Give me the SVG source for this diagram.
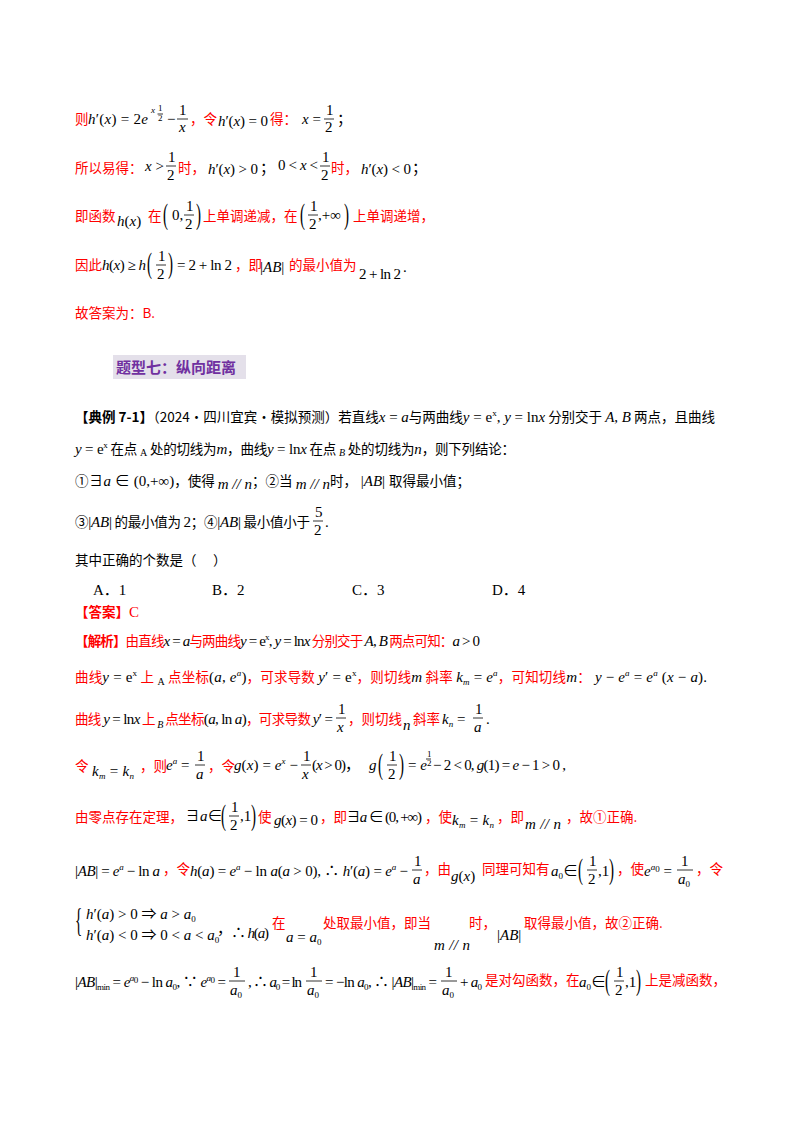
<svg xmlns="http://www.w3.org/2000/svg" width="800" height="1132" viewBox="0 0 800 1132">
<style>
text{font-family:"Liberation Serif","Noto Sans CJK SC",serif;font-size:15px;fill:#000}
.r{fill:#ff0000;font-family:"Noto Sans CJK SC",sans-serif;font-size:13.5px}
.rb{fill:#ff0000;font-family:"Noto Sans CJK SC",sans-serif;font-size:13.5px;font-weight:bold}
.c{font-family:"Noto Sans CJK SC",sans-serif;font-size:13.5px}
.i{font-style:italic}
.s{font-size:9px}
.sm{font-size:10px}
.p{font-size:15px}
.fb{stroke:#000;stroke-width:0.8}
.h{fill:#7030a0;font-family:"Noto Sans CJK SC",sans-serif;font-size:15px;font-weight:bold}
</style>
<rect width="800" height="1132" fill="#fff"/>

<g id="l1">
<text class="r" x="75" y="124">则</text>
<text x="88" y="124" textLength="60"><tspan class="i">h</tspan>′(<tspan class="i">x</tspan>) = 2<tspan class="i">e</tspan></text>
<text class="s i" x="151" y="113">x</text>
<text class="s" x="158" y="111">1</text><line class="fb" x1="157.5" y1="114" x2="163" y2="114"/><text class="s" x="158" y="121">2</text>
<text x="167" y="124">−</text>
<text x="179" y="115">1</text><line class="fb" x1="177" y1="119" x2="188" y2="119"/><text class="i" x="179" y="132">x</text>
<text class="r" x="190" y="124">，令</text>
<text x="218" y="126" textLength="50"><tspan class="i">h</tspan>′(<tspan class="i">x</tspan>) = 0</text>
<text class="r" x="270" y="124">得：</text>
<text x="302" y="124"><tspan class="i">x</tspan> =</text>
<text x="326" y="115">1</text><line class="fb" x1="324" y1="119" x2="334" y2="119"/><text x="325" y="132">2</text>
<text x="337" y="124">；</text>
</g>

<g id="l2">
<text class="r" x="75" y="173">所以易得：</text>
<text x="145" y="171"><tspan class="i">x</tspan> &gt;</text>
<text x="168" y="162">1</text><line class="fb" x1="166" y1="166" x2="176" y2="166"/><text x="167" y="180">2</text>
<text class="r" x="178" y="173">时，</text>
<text x="208" y="174" textLength="50"><tspan class="i">h</tspan>′(<tspan class="i">x</tspan>) &gt; 0</text>
<text x="260" y="173">；</text>
<text x="278" y="170" textLength="40">0 &lt; <tspan class="i">x</tspan> &lt;</text>
<text x="322" y="162">1</text><line class="fb" x1="320" y1="166" x2="330" y2="166"/><text x="321" y="180">2</text>
<text class="r" x="331" y="173">时，</text>
<text x="361" y="174" textLength="50"><tspan class="i">h</tspan>′(<tspan class="i">x</tspan>) &lt; 0</text>
<text x="412" y="173">；</text>
</g>

<g id="l3">
<text class="r" x="75" y="221">即函数</text>
<text x="117" y="226"><tspan class="i">h</tspan>(<tspan class="i">x</tspan>)</text>
<text class="r" x="148" y="221">在</text>
<text class="p" transform="translate(163,224) scale(1,1.9)">(</text>
<text x="172" y="220">0,</text>
<text x="186" y="211">1</text><line class="fb" x1="184" y1="215" x2="194" y2="215"/><text x="185" y="229">2</text>
<text class="p" transform="translate(196,224) scale(1,1.9)">)</text>
<text class="r" x="203" y="221">上单调递减，在</text>
<text class="p" transform="translate(300,224) scale(1,1.9)">(</text>
<text x="310" y="211">1</text><line class="fb" x1="308" y1="215" x2="318" y2="215"/><text x="309" y="229">2</text>
<text x="318" y="220" font-size="13">,+∞</text>
<text class="p" transform="translate(344,224) scale(1,1.9)">)</text>
<text class="r" x="353" y="221">上单调递增，</text>
</g>

<g id="l4">
<text class="r" x="75" y="270">因此</text>
<text x="102" y="270" textLength="44"><tspan class="i">h</tspan>(<tspan class="i">x</tspan>) ≥ <tspan class="i">h</tspan></text>
<text class="p" transform="translate(147,273) scale(1,1.9)">(</text>
<text x="158" y="261">1</text><line class="fb" x1="156" y1="265" x2="166" y2="265"/><text x="157" y="279">2</text>
<text class="p" transform="translate(168,273) scale(1,1.9)">)</text>
<text x="177" y="270" textLength="55">= 2 + ln 2</text>
<text class="r" x="235" y="270">，即</text>
<text x="260" y="272">|<tspan class="i">AB</tspan>|</text>
<text class="r" x="289" y="270">的最小值为</text>
<text x="359" y="279" textLength="42">2 + ln 2</text>
<text x="403" y="272">.</text>
</g>

<g id="l5"><text class="r" x="75" y="318">故答案为：B.</text></g>

<g id="heading">
<rect x="113" y="355" width="133" height="24" fill="#e4e0ea"/>
<text class="h" x="116" y="373">题型七：纵向距离</text>
</g>

<g id="problem">
<text x="75" y="422" textLength="640"><tspan class="c" font-weight="bold">【典例 7-1】</tspan><tspan class="c">（2024·四川宜宾·模拟预测）若直线</tspan><tspan class="i">x</tspan> = <tspan class="i">a</tspan><tspan class="c">与两曲线</tspan><tspan class="i">y</tspan> = e<tspan class="s" dy="-6">x</tspan><tspan dy="6">, </tspan><tspan class="i">y</tspan> = ln<tspan class="i">x</tspan><tspan class="c"> 分别交于 </tspan><tspan class="i">A</tspan>, <tspan class="i">B</tspan><tspan class="c"> 两点，且曲线</tspan></text>
<text x="75" y="454" textLength="440"><tspan class="i">y</tspan> = e<tspan class="s" dy="-6">x</tspan><tspan class="c" dy="6"> 在点 </tspan><tspan class="sm" dy="2">A</tspan><tspan class="c" dy="-2"> 处的切线为</tspan><tspan class="i">m</tspan><tspan class="c">，曲线</tspan><tspan class="i">y</tspan> = ln<tspan class="i">x</tspan><tspan class="c"> 在点 </tspan><tspan class="i sm" dy="2">B</tspan><tspan class="c" dy="-2"> 处的切线为</tspan><tspan class="i">n</tspan><tspan class="c">，则下列结论：</tspan></text>
<text x="75" y="486" textLength="395"><tspan class="c">①</tspan>∃<tspan class="i">a</tspan> ∈ (0,+∞)<tspan class="c">，使得 </tspan><tspan class="i" dy="3">m // n</tspan><tspan class="c" dy="-3">；②当 </tspan><tspan class="i" dy="3">m // n</tspan><tspan class="c" dy="-3">时，</tspan> |<tspan class="i">AB</tspan>| <tspan class="c">取得最小值；</tspan></text>
<text x="75" y="527" textLength="235"><tspan class="c">③</tspan>|<tspan class="i">AB</tspan>|<tspan class="c"> 的最小值为 </tspan>2<tspan class="c">；④</tspan>|<tspan class="i">AB</tspan>|<tspan class="c"> 最小值小于</tspan></text>
<text x="315" y="517">5</text><line class="fb" x1="313" y1="521" x2="323" y2="521"/><text x="314" y="535">2</text>
<text x="325" y="527">.</text>
<text class="c" x="75" y="565">其中正确的个数是（　 ）</text>
<text x="93" y="595">A．1</text>
<text x="212" y="595">B．2</text>
<text x="352" y="595">C．3</text>
<text x="492" y="595">D．4</text>
</g>

<g id="answer"><text x="75" y="617"><tspan class="rb">【答案】</tspan><tspan fill="#ff0000">C</tspan></text></g>

<g id="s1">
<text x="75" y="646" textLength="405"><tspan class="rb">【解析】</tspan><tspan class="r">由直线</tspan><tspan class="i">x</tspan> = <tspan class="i">a</tspan><tspan class="r">与两曲线</tspan><tspan class="i">y</tspan> = e<tspan class="s" dy="-6">x</tspan><tspan dy="6">, </tspan><tspan class="i">y</tspan> = ln<tspan class="i">x</tspan><tspan class="r"> 分别交于 </tspan><tspan class="i">A</tspan>, <tspan class="i">B</tspan><tspan class="r"> 两点可知：</tspan><tspan class="i">a</tspan> &gt; 0</text>
</g>
<g id="s2">
<text x="75" y="682" textLength="632"><tspan class="r">曲线</tspan><tspan class="i">y</tspan> = e<tspan class="s" dy="-6">x</tspan><tspan class="r" dy="6"> 上 </tspan><tspan class="sm" dy="3">A</tspan><tspan class="r" dy="-3"> 点坐标</tspan>(<tspan class="i">a</tspan>, <tspan class="i">e</tspan><tspan class="s i" dy="-6">a</tspan><tspan dy="6">)</tspan><tspan class="r">，可求导数 </tspan><tspan class="i">y</tspan>′ = e<tspan class="s" dy="-6">x</tspan><tspan class="r" dy="6">，则切线</tspan><tspan class="i">m</tspan><tspan class="r"> 斜率 </tspan><tspan class="i">k</tspan><tspan class="s i" dy="3">m</tspan><tspan dy="-3"> = </tspan><tspan class="i">e</tspan><tspan class="s i" dy="-6">a</tspan><tspan class="r" dy="6">，可知切线</tspan><tspan class="i">m</tspan><tspan class="r">：</tspan> <tspan class="i">y</tspan> − <tspan class="i">e</tspan><tspan class="s i" dy="-6">a</tspan><tspan dy="6"> = </tspan><tspan class="i">e</tspan><tspan class="s i" dy="-6">a</tspan><tspan dy="6"> (</tspan><tspan class="i">x</tspan> − <tspan class="i">a</tspan>).</text>
</g>
<g id="s3">
<text x="75" y="724" textLength="258"><tspan class="r">曲线 </tspan><tspan class="i">y</tspan> = ln<tspan class="i">x</tspan><tspan class="r"> 上 </tspan><tspan class="i sm" dy="4">B</tspan><tspan class="r" dy="-4"> 点坐标</tspan>(<tspan class="i">a</tspan>, ln <tspan class="i">a</tspan>)<tspan class="r">，可求导数 </tspan><tspan class="i">y</tspan>′ =</text>
<text x="338" y="714">1</text><line class="fb" x1="336" y1="718" x2="346" y2="718"/><text class="i" x="337" y="732">x</text>
<text class="r" x="348" y="724">，则切线</text>
<text class="i" x="403" y="730">n</text>
<text class="r" x="413" y="724">斜率</text>
<text x="442" y="724"><tspan class="i">k</tspan><tspan class="s i" dy="3">n</tspan><tspan dy="-3"> =</tspan></text>
<text x="475" y="714">1</text><line class="fb" x1="473" y1="718" x2="483" y2="718"/><text class="i" x="474" y="732">a</text>
<text x="486" y="724">.</text>
</g>
<g id="s4">
<text class="r" x="75" y="771">令</text>
<text x="92" y="776" textLength="42"><tspan class="i">k</tspan><tspan class="s i" dy="3">m</tspan><tspan dy="-3"> = </tspan><tspan class="i">k</tspan><tspan class="s i" dy="3">n</tspan></text>
<text class="r" x="140" y="771">，则</text>
<text x="166" y="770"><tspan class="i">e</tspan><tspan class="s i" dy="-6">a</tspan><tspan dy="6"> =</tspan></text>
<text x="197" y="761">1</text><line class="fb" x1="195" y1="765" x2="205" y2="765"/><text class="i" x="196" y="779">a</text>
<text class="r" x="208" y="771">，令</text>
<text x="234" y="770" textLength="64"><tspan class="i">g</tspan>(<tspan class="i">x</tspan>) = <tspan class="i">e</tspan><tspan class="s i" dy="-6">x</tspan><tspan dy="6"> −</tspan></text>
<text x="303" y="761">1</text><line class="fb" x1="301" y1="765" x2="311" y2="765"/><text class="i" x="302" y="779">x</text>
<text x="312" y="770" textLength="48">(<tspan class="i">x</tspan> &gt; 0)，</text>
<text x="369" y="770" class="i">g</text>
<text class="p" transform="translate(378,774) scale(1,1.9)">(</text>
<text x="389" y="761">1</text><line class="fb" x1="387" y1="765" x2="397" y2="765"/><text x="388" y="779">2</text>
<text class="p" transform="translate(399,774) scale(1,1.9)">)</text>
<text x="408" y="770">= <tspan class="i">e</tspan></text>
<text class="s" x="427" y="757">1</text><line class="fb" x1="426" y1="759" x2="431" y2="759"/><text class="s" x="427" y="766">2</text>
<text x="433" y="770" textLength="133">− 2 &lt; 0, <tspan class="i">g</tspan>(1) = <tspan class="i">e</tspan> − 1 &gt; 0 ,</text>
</g>
<g id="s5">
<text class="r" x="75" y="822">由零点存在定理，</text>
<text x="185" y="821">∃<tspan class="i">a</tspan>∈</text>
<text class="p" transform="translate(221,825) scale(1,1.9)">(</text>
<text x="231" y="812">1</text><line class="fb" x1="229" y1="816" x2="239" y2="816"/><text x="230" y="830">2</text>
<text x="240" y="821">,1</text>
<text class="p" transform="translate(251,825) scale(1,1.9)">)</text>
<text class="r" x="258" y="822">使</text>
<text x="274" y="825" textLength="44"><tspan class="i">g</tspan>(<tspan class="i">x</tspan>) = 0</text>
<text class="r" x="320" y="822">，即</text>
<text x="346" y="822" textLength="76">∃<tspan class="i">a</tspan> ∈ (0, +∞)</text>
<text class="r" x="425" y="822">，使</text>
<text x="452" y="825" textLength="42"><tspan class="i">k</tspan><tspan class="s i" dy="3">m</tspan><tspan dy="-3"> = </tspan><tspan class="i">k</tspan><tspan class="s i" dy="3">n</tspan></text>
<text class="r" x="497" y="822">，即</text>
<text class="i" x="525" y="829" textLength="36">m // n</text>
<text class="r" x="566" y="822">，故①正确.</text>
</g>
<g id="s6">
<text x="75" y="876" textLength="85">|<tspan class="i">AB</tspan>| = <tspan class="i">e</tspan><tspan class="s i" dy="-6">a</tspan><tspan dy="6"> − ln <tspan class="i">a</tspan></tspan></text>
<text class="r" x="163" y="874">，令</text>
<text x="190" y="876" textLength="218"><tspan class="i">h</tspan>(<tspan class="i">a</tspan>) = <tspan class="i">e</tspan><tspan class="s i" dy="-6">a</tspan><tspan dy="6"> − ln <tspan class="i">a</tspan>(<tspan class="i">a</tspan> &gt; 0), ∴ <tspan class="i">h</tspan>′(<tspan class="i">a</tspan>) = <tspan class="i">e</tspan></tspan><tspan class="s i" dy="-6">a</tspan><tspan dy="6"> −</tspan></text>
<text x="414" y="866">1</text><line class="fb" x1="412" y1="870" x2="422" y2="870"/><text class="i" x="413" y="884">a</text>
<text class="r" x="424" y="874">，由</text>
<text x="451" y="881"><tspan class="i">g</tspan>(<tspan class="i">x</tspan>)</text>
<text class="r" x="482" y="874">同理可知有</text>
<text x="551" y="876"><tspan class="i">a</tspan><tspan class="s" dy="3">0</tspan><tspan dy="-3">∈</tspan></text>
<text class="p" transform="translate(578,879) scale(1,1.9)">(</text>
<text x="589" y="866">1</text><line class="fb" x1="587" y1="870" x2="597" y2="870"/><text x="588" y="884">2</text>
<text x="598" y="876">,1</text>
<text class="p" transform="translate(609,879) scale(1,1.9)">)</text>
<text class="r" x="617" y="874">，使</text>
<text x="644" y="876"><tspan class="i">e</tspan><tspan class="s i" dy="-6">a</tspan><tspan class="s" dy="2">0</tspan><tspan dy="4"> =</tspan></text>
<text x="681" y="866">1</text><line class="fb" x1="677" y1="870" x2="693" y2="870"/><text x="678" y="884"><tspan class="i">a</tspan><tspan class="s" dy="3">0</tspan></text>
<text class="r" x="696" y="874">，令</text>
</g>
<g id="s7">
<text transform="translate(75,931) scale(1,2.2)" font-size="16">{</text>
<text x="86" y="919"><tspan class="i">h</tspan>′(<tspan class="i">a</tspan>) &gt; 0 ⇒ <tspan class="i">a</tspan> &gt; <tspan class="i">a</tspan><tspan class="s" dy="3">0</tspan></text>
<text x="86" y="940"><tspan class="i">h</tspan>′(<tspan class="i">a</tspan>) &lt; 0 ⇒ 0 &lt; <tspan class="i">a</tspan> &lt; <tspan class="i">a</tspan><tspan class="s" dy="3">0</tspan></text>
<text x="217" y="934">，</text>
<text x="231" y="938" textLength="38">∴ <tspan class="i">h</tspan>(<tspan class="i">a</tspan>)</text>
<text class="r" x="272" y="928">在</text>
<text x="286" y="942"><tspan class="i">a</tspan> = <tspan class="i">a</tspan><tspan class="s" dy="3">0</tspan></text>
<text class="r" x="323" y="928">处取最小值，即当</text>
<text class="i" x="434" y="950" textLength="36">m // n</text>
<text class="r" x="469" y="928">时，</text>
<text x="497" y="940">|<tspan class="i">AB</tspan>|</text>
<text class="r" x="524" y="928">取得最小值，故②正确.</text>
</g>
<g id="s8">
<text x="75" y="987" textLength="151">|<tspan class="i">AB</tspan>|<tspan class="s" dy="3">min</tspan><tspan dy="-3"> = </tspan><tspan class="i">e</tspan><tspan class="s i" dy="-6">a</tspan><tspan class="s" dy="2">0</tspan><tspan dy="4"> − ln <tspan class="i">a</tspan></tspan><tspan class="s" dy="3">0</tspan><tspan dy="-3">, ∵ </tspan><tspan class="i">e</tspan><tspan class="s i" dy="-6">a</tspan><tspan class="s" dy="2">0</tspan><tspan dy="4"> =</tspan></text>
<text x="233" y="977">1</text><line class="fb" x1="229" y1="981" x2="245" y2="981"/><text x="230" y="995"><tspan class="i">a</tspan><tspan class="s" dy="3">0</tspan></text>
<text x="248" y="987" textLength="54">, ∴ <tspan class="i">a</tspan><tspan class="s" dy="3">0</tspan><tspan dy="-3"> = ln</tspan></text>
<text x="310" y="977">1</text><line class="fb" x1="306" y1="981" x2="322" y2="981"/><text x="307" y="995"><tspan class="i">a</tspan><tspan class="s" dy="3">0</tspan></text>
<text x="325" y="987" textLength="112">= −ln <tspan class="i">a</tspan><tspan class="s" dy="3">0</tspan><tspan dy="-3">, ∴ |</tspan><tspan class="i">AB</tspan>|<tspan class="s" dy="3">min</tspan><tspan dy="-3"> =</tspan></text>
<text x="445" y="977">1</text><line class="fb" x1="441" y1="981" x2="457" y2="981"/><text x="442" y="995"><tspan class="i">a</tspan><tspan class="s" dy="3">0</tspan></text>
<text x="460" y="987" textLength="22">+ <tspan class="i">a</tspan><tspan class="s" dy="3">0</tspan></text>
<text class="r" x="485" y="985">是对勾函数，在</text>
<text x="579" y="987"><tspan class="i">a</tspan><tspan class="s" dy="3">0</tspan><tspan dy="-3">∈</tspan></text>
<text class="p" transform="translate(605,990) scale(1,1.9)">(</text>
<text x="616" y="977">1</text><line class="fb" x1="614" y1="981" x2="624" y2="981"/><text x="615" y="995">2</text>
<text x="625" y="987">,1</text>
<text class="p" transform="translate(636,990) scale(1,1.9)">)</text>
<text class="r" x="645" y="985">上是减函数，</text>
</g>
</svg>
